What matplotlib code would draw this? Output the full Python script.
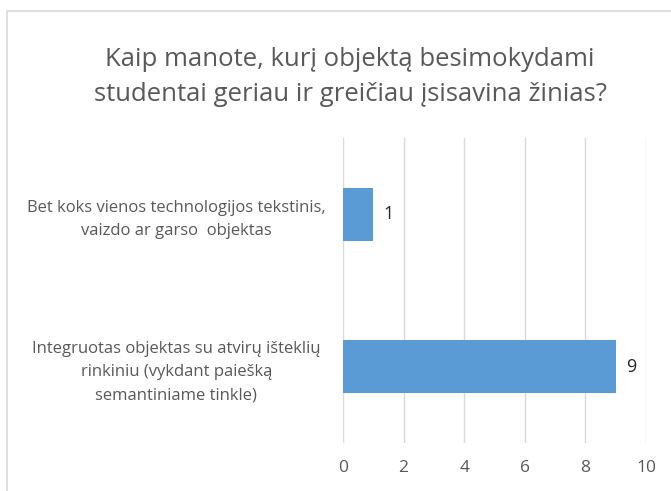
import matplotlib.pyplot as plt
from matplotlib.patches import Rectangle

categories = [
    "Integruotas objektas su atvirų išteklių\nrinkiniu (vykdant paiešką\nsemantiniame tinkle)",
    "Bet koks vienos technologijos tekstinis,\nvaizdo ar garso  objektas",
]
values = [9, 1]
x_ticks = [0, 2, 4, 6, 8, 10]
title = "Kaip manote, kurį objektą besimokydami\nstudentai geriau ir greičiau įsisavina žinias?"

plt.rcParams['font.family'] = ['Open Sans', 'DejaVu Sans']

W, H = 671, 491
fig = plt.figure(figsize=(W / 100, H / 100), dpi=100)

# chart frame, running off the right and bottom edge
fig.patches.append(Rectangle((7 / W, -0.1), 1.2, 1 - 11 / H + 0.1, transform=fig.transFigure,
                             fill=False, edgecolor='#D9D9D9', linewidth=1.2))

ax = fig.add_axes([343 / W, 1 - 443 / H, (646 - 343) / W, (443 - 138) / H])
ax.barh(range(len(values)), values, height=0.35, color='#5B9BD5')
ax.set_ylim(-0.5, 1.5)
ax.set_xlim(0, 10)
ax.set_xticks(x_ticks)
ax.set_yticks(range(len(categories)))
ax.set_yticklabels(categories, fontsize=12, color='#595959', ha='center', linespacing=1.6)
ax.tick_params(axis='y', length=0, pad=120)
ax.tick_params(axis='x', length=0, pad=12, labelsize=12.5, labelcolor='#595959')
ax.grid(axis='x', color='#D9D9D9', linewidth=1)
ax.set_axisbelow(True)
for s in ax.spines.values():
    s.set_visible(False)

for i, v in enumerate(values):
    ax.text(v + 0.5, i, str(v), va='center', ha='center', fontsize=13, color='#262626')

fig.text(350 / W, 1 - 77 / H, title, ha='center', va='center', fontsize=18.5,
         color='#595959', linespacing=1.5)

fig.savefig('out.png', dpi=100)
